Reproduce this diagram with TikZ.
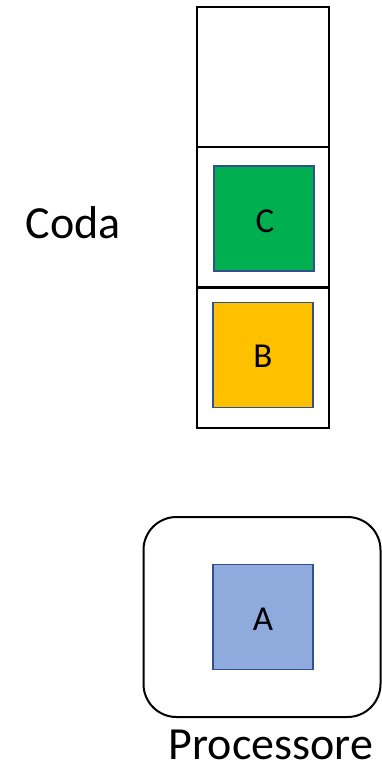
\documentclass[tikz,border=0pt]{standalone}
\usepackage{fontspec}
\setmainfont{Carlito}
\definecolor{qgreen}{HTML}{00B050}
\definecolor{qyellow}{HTML}{FFC000}
\definecolor{qblue}{HTML}{8FAADC}
\definecolor{qedge}{HTML}{2F528F}
\begin{document}
\begin{tikzpicture}[x=1pt,y=-1pt,
  slot/.style={draw=black,line width=2pt,minimum width=132pt,minimum height=140pt,inner sep=0pt,outer sep=0pt},
  job/.style={draw=qedge,line width=1.6pt,minimum width=100pt,minimum height=105pt,inner sep=0pt},
  letter/.style={font=\fontsize{35}{38}\selectfont,inner sep=0pt,anchor=base},
  lbl/.style={font=\fontsize{46}{50}\selectfont,inner sep=0pt,anchor=base,text depth=0pt}]
\useasboundingbox (0,0) rectangle (382,771);
% queue slots
\node[slot] (s1) at (263,77) {};
\node[slot] (s2) at (263,217) {};
\node[slot] (s3) at (263,357.5) {};
\node[job,fill=qgreen] (c) at (264,218.5) {};
\node[letter] (ct) at (265,232) {C};
\node[job,fill=qyellow] (b) at (263,355) {};
\node[letter] (bt) at (263,367) {B};
\node[lbl] (coda) at (73,238) {Coda};
% processor
\node[draw=black,line width=2pt,rounded corners=33pt,minimum width=237pt,minimum height=200pt,inner sep=0pt] (proc) at (262,617) {};
\node[job,fill=qblue] (a) at (263,617) {};
\node[letter] (at) at (263,630) {A};
\node[lbl] (plbl) at (271,759) {Processore};
\end{tikzpicture}
\end{document}
